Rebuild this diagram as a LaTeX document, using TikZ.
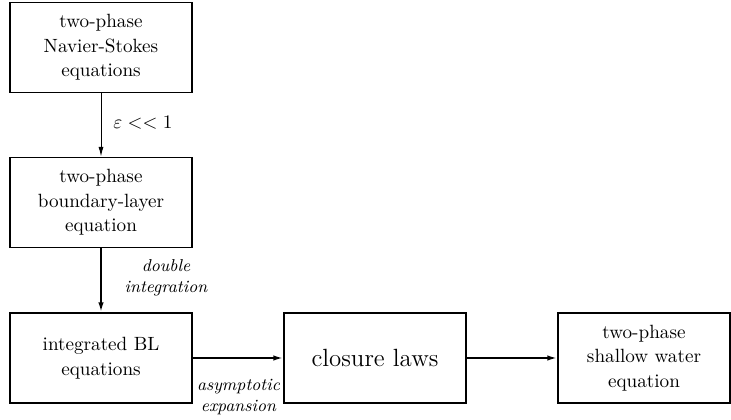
\documentclass[tikz,border=0pt]{standalone}
\usetikzlibrary{arrows.meta}
\begin{document}
\begin{tikzpicture}[x=0.522pt,y=-0.522pt,
  box/.style={draw,line width=1pt,align=center,minimum width={182*0.522pt},minimum height={90*0.522pt},inner sep=0pt,font=\fontsize{10pt}{12.8pt}\selectfont},
  thinarrow/.style={line width=0.5pt,-{Latex[length=5pt,width=2.6pt]}},
  thickarrow/.style={line width=0.9pt,-{Latex[length=5pt,width=2.8pt]}},
  lab/.style={align=center,inner sep=0pt,font=\small\itshape}]
\useasboundingbox (0,0) rectangle (731,420);
\node[box] (ns) at (101,47.5) {two-phase\\Navier-Stokes\\equations};
\node[box] (bl) at (101,202.5) {two-phase\\boundary-layer\\equation};
\node[box] (ibl) at (101,358) {integrated BL\\equations};
\node[box,font=\fontsize{13pt}{15pt}\selectfont] (cl) at (375,358) {closure laws};
\node[box,minimum width={172*0.522pt}] (sw) at (644,358) {two-phase\\shallow water\\equation};
\draw[thinarrow] (ns) -- (bl);
\draw[thickarrow] (bl) -- (ibl);
\draw[thickarrow] (ibl) -- (cl);
\draw[thickarrow] (cl) -- (sw);
\node[inner sep=0pt,anchor=west] (l1) at (113,123) {$\varepsilon << 1$};
\node[lab] (l2) at (166,278) {double\\integration};
\node[lab] (l3) at (238.5,397) {asymptotic\\expansion};
\end{tikzpicture}
\end{document}
